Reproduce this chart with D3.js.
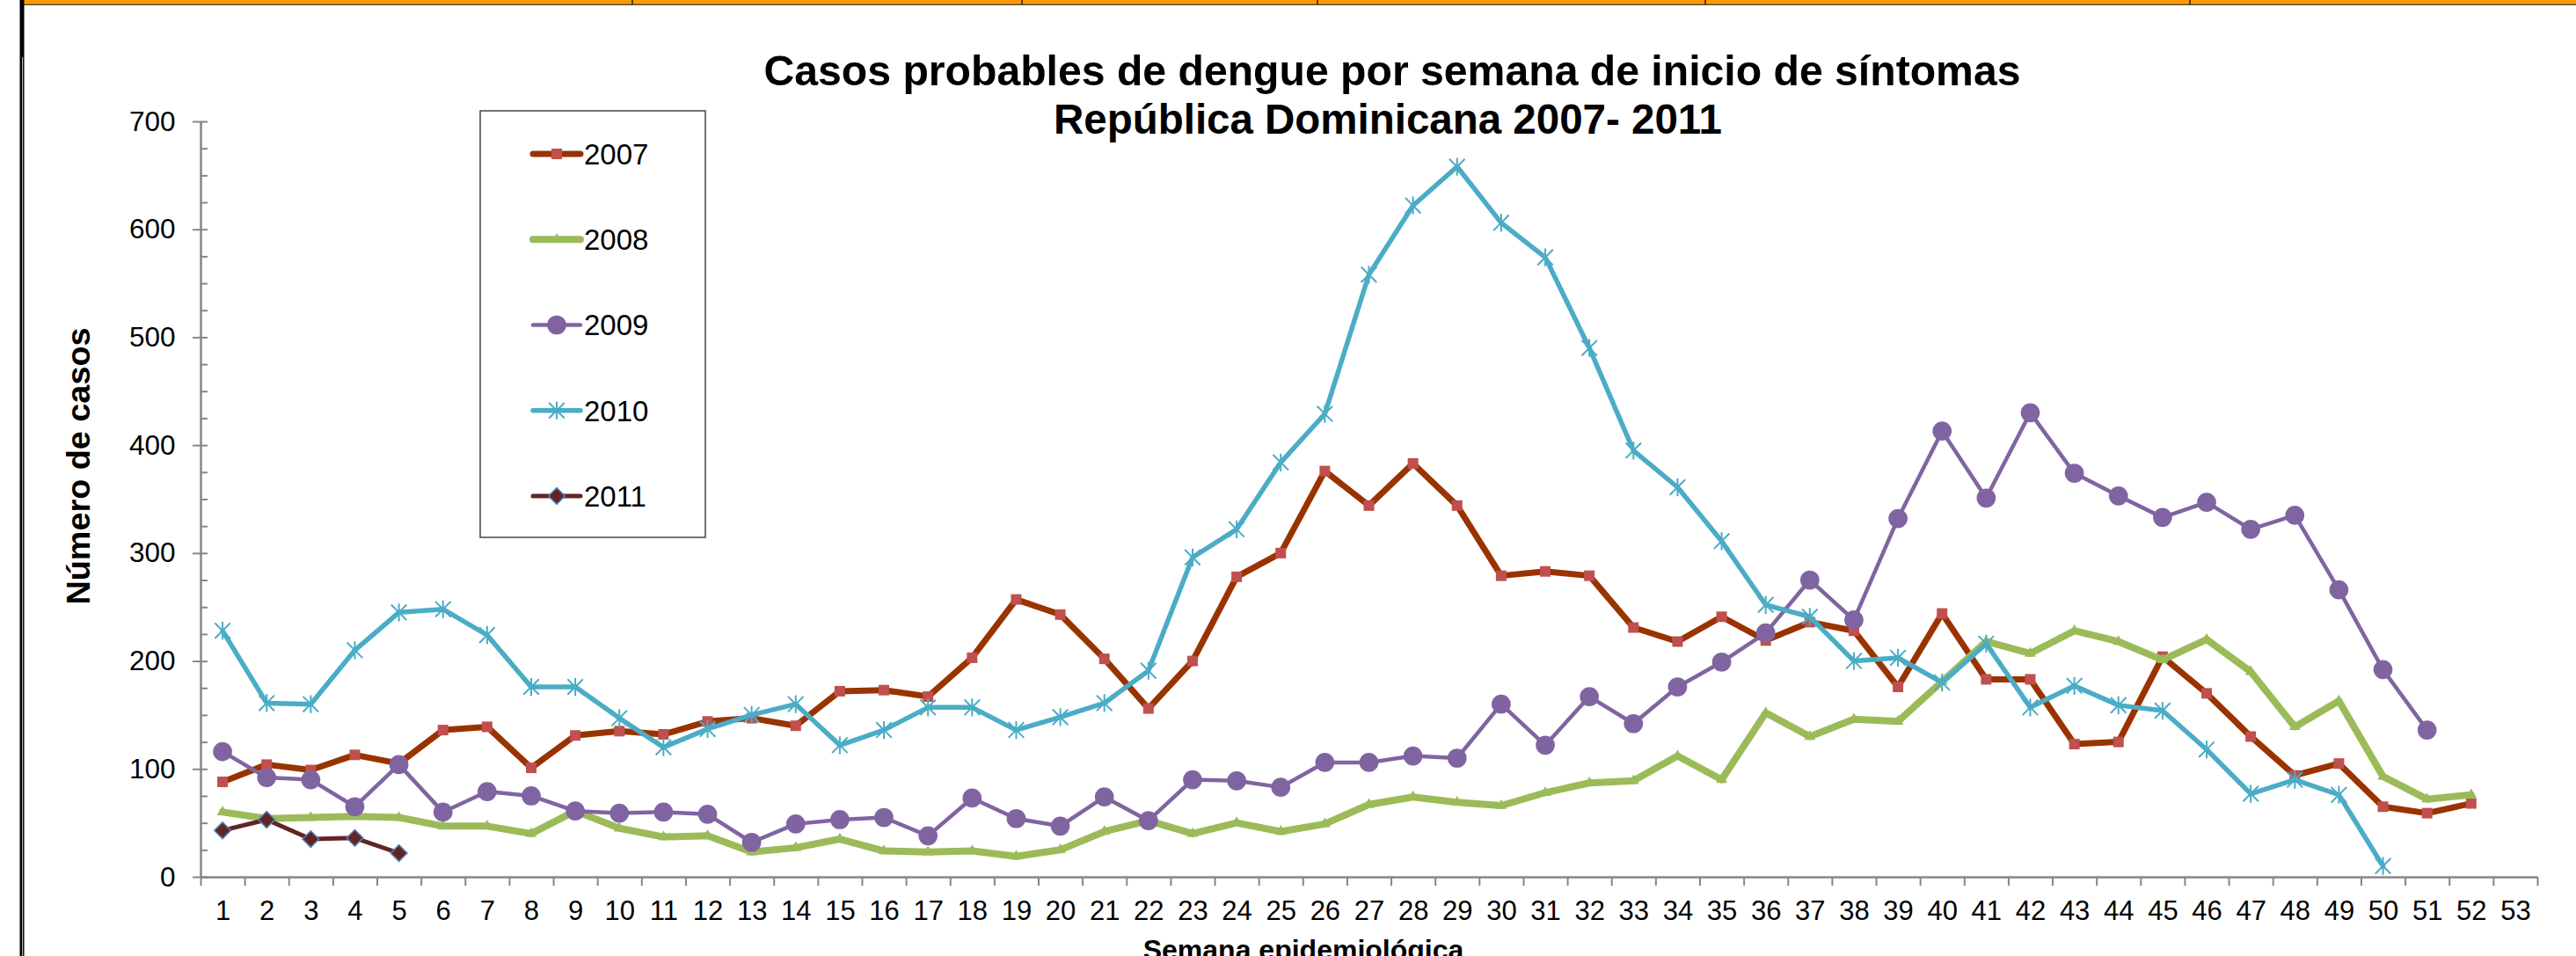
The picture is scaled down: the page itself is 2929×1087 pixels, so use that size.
<!DOCTYPE html>
<html>
<head>
<meta charset="utf-8">
<script src="https://cdn.jsdelivr.net/npm/d3@7"></script>
<style>
  body { margin: 0; background: #fff; }
  svg { display: block; }
  text { font-family: "Liberation Sans", Arial, sans-serif; fill: #000; }
</style>
</head>
<body>
<svg width="2929" height="1087"></svg>
<script>
// semanas epidemiologicas
let weeks = [1, 2, 3, 4, 5, 6, 7, 8, 9, 10, 11, 12, 13, 14, 15, 16, 17, 18, 19, 20,
             21, 22, 23, 24, 25, 26, 27, 28, 29, 30, 31, 32, 33, 34, 35, 36, 37, 38, 39, 40,
             41, 42, 43, 44, 45, 46, 47, 48, 49, 50, 51, 52, 53];
let years = ["2007", "2008", "2009", "2010", "2011"];

let cases2007 = [88, 104, 99, 113, 105, 136, 139, 101, 131, 135,
                 132, 144, 147, 140, 172, 173, 167, 203, 257, 243,
                 202, 156, 200, 278, 300, 376, 344, 383, 344, 279,
                 283, 279, 231, 218, 241, 219, 236, 228, 176, 244,
                 183, 183, 123, 125, 204, 170, 130, 94, 105, 65,
                 59, 68];
let cases2008 = [60, 54, 55, 56, 55, 47, 47, 40, 61, 45,
                 37, 38, 23, 27, 35, 24, 23, 24, 19, 25,
                 42, 52, 40, 50, 42, 49, 67, 74, 69, 66,
                 78, 87, 89, 112, 90, 152, 130, 146, 144, 181,
                 218, 207, 228, 218, 201, 220, 190, 139, 163, 93,
                 72, 76];
let cases2009 = [116, 92, 90, 65, 104, 60, 79, 75, 61, 59,
                 60, 58, 32, 49, 53, 55, 38, 73, 54, 47,
                 74, 52, 90, 89, 83, 106, 106, 112, 110, 160,
                 122, 167, 142, 176, 199, 226, 275, 238, 332, 413,
                 351, 430, 374, 353, 333, 347, 322, 335, 266, 192,
                 136];
let cases2010 = [228, 161, 160, 210, 245, 248, 224, 176, 176, 147,
                 120, 137, 150, 160, 122, 136, 157, 157, 136, 148,
                 161, 191, 296, 322, 384, 429, 558, 622, 658, 606,
                 574, 490, 395, 361, 311, 252, 241, 200, 203, 180,
                 216, 157, 177, 159, 154, 118, 77, 90, 76, 10];
let cases2011 = [43, 53, 35, 36, 22];

let yTicks = [0, 100, 200, 300, 400, 500, 600, 700];

let titleLines = ["Casos probables de dengue por semana de inicio de síntomas",
                  "República Dominicana 2007- 2011"];

var svg = d3.select("svg"),
    width = +svg.attr("width"),
    height = +svg.attr("height");

var x = d3.scaleLinear().domain([0.5, 53.5]).range([228, 2885]);
var y = d3.scaleLinear().domain([0, 700]).range([997, 138]);

// marcador tipo asterisco (estilo excel)
var asterisk = {
    draw: function(ctx, size) {
        var r = Math.sqrt(size) / 2;
        ctx.moveTo(-r, -r); ctx.lineTo(r, r);
        ctx.moveTo(-r, r); ctx.lineTo(r, -r);
        ctx.moveTo(0, -r * 1.15); ctx.lineTo(0, r * 1.15);
    }
};

var series = [
    {name: years[0], values: cases2007, line: "#993300", width: 7,   symbol: d3.symbolSquare,   size: 144, fill: "#C0504D", stroke: "none", sw: 0, rot: 0},
    {name: years[1], values: cases2008, line: "#9BBB59", width: 8,   symbol: d3.symbolTriangle, size: 70,  fill: "#9BBB59", stroke: "none", sw: 0, rot: 0},
    {name: years[2], values: cases2009, line: "#8064A2", width: 4.5, symbol: d3.symbolCircle,   size: 370, fill: "#8064A2", stroke: "none", sw: 0, rot: 0},
    {name: years[3], values: cases2010, line: "#4BACC6", width: 5.5, symbol: asterisk,         size: 310, fill: "none",    stroke: "#4BACC6", sw: 2, rot: 0},
    {name: years[4], values: cases2011, line: "#632523", width: 5,   symbol: d3.symbolSquare,   size: 175, fill: "#632523", stroke: "#4F81BD", sw: 1.5, rot: 45}
];

// marco de la hoja
svg.append("rect").attr("x", 0).attr("y", 0).attr("width", width).attr("height", height).attr("fill", "#fff");
svg.append("rect").attr("x", 26).attr("y", 0).attr("width", width - 26).attr("height", 4.5).attr("fill", "#FF9900");
svg.append("rect").attr("x", 26).attr("y", 4.5).attr("width", width - 26).attr("height", 1.5).attr("fill", "#5a4018");
[719, 1162, 1498, 1939, 2490].forEach(function(d){
    svg.append("line").attr("x1", d).attr("x2", d).attr("y1", 0).attr("y2", 5)
        .attr("stroke", "#222").attr("stroke-width", 1.5);
});
svg.append("rect").attr("x", 22.5).attr("y", 0).attr("width", 5).attr("height", height).attr("fill", "#000");
svg.append("line").attr("x1", 25.6).attr("x2", 25.6).attr("y1", 65).attr("y2", height)
    .attr("stroke", "#fff").attr("stroke-width", 0.8);

// titulo
var title = svg.append("g").attr("class", "title");
title.append("text").attr("x", 1583).attr("y", 97)
    .attr("text-anchor", "middle").style("font-size", "48px").style("font-weight", "bold")
    .attr("textLength", 1429).attr("lengthAdjust", "spacingAndGlyphs")
    .text(titleLines[0]);
title.append("text").attr("x", 1578).attr("y", 152)
    .attr("text-anchor", "middle").style("font-size", "48px").style("font-weight", "bold")
    .attr("textLength", 760).attr("lengthAdjust", "spacingAndGlyphs")
    .text(titleLines[1]);

// eje y
var yAxis = svg.append("g").attr("class", "y axis").attr("transform", "translate(228,0)");
yAxis.call(d3.axisLeft(y).tickValues(yTicks).tickSize(9).tickSizeOuter(0).tickPadding(19.5));
yAxis.call(g => g.append("g").call(d3.axisRight(y).tickValues(d3.range(0, 701, 25)).tickSize(8).tickSizeOuter(0).tickFormat("")));
yAxis.selectAll("text").style("font-size", "31.5px").attr("fill", "#000");
yAxis.selectAll("path.domain").attr("stroke", "#868686").attr("stroke-width", 2);
yAxis.selectAll(".tick line").attr("stroke", "#868686").attr("stroke-width", 2);

svg.append("text")
    .attr("transform", "translate(102," + 530 + ") rotate(-90)")
    .attr("text-anchor", "middle").style("font-size", "37px").style("font-weight", "bold")
    .attr("textLength", 315).attr("lengthAdjust", "spacingAndGlyphs")
    .text("Número de casos");

// eje x
var boundaries = weeks.map(function(w){ return w - 0.5; }).concat([weeks[weeks.length - 1] + 0.5]);
var xAxis = svg.append("g").attr("class", "x axis").attr("transform", "translate(0,997)");
xAxis.call(d3.axisBottom(x).tickValues(weeks).tickSize(0).tickSizeOuter(0).tickPadding(26.5));
xAxis.call(g => g.append("g").call(d3.axisBottom(x).tickValues(boundaries).tickSize(10).tickSizeOuter(0).tickFormat("")));
xAxis.selectAll("text").style("font-size", "31px").attr("fill", "#000");
xAxis.selectAll("path.domain").attr("stroke", "#868686").attr("stroke-width", 2);
xAxis.selectAll(".tick line").attr("stroke", "#868686").attr("stroke-width", 2);

// titulo eje x (en el original queda cortado por el borde inferior)
svg.append("text")
    .attr("x", 1482).attr("y", 1091)
    .attr("text-anchor", "middle").style("font-size", "32px").style("font-weight", "bold")
    .text("Semana epidemiológica");

// series
var line = d3.line()
    .x(function(d, i){ return x(weeks[i]); })
    .y(function(d){ return y(d); });

series.forEach(function(s){
    var g = svg.append("g").attr("class", "serie");
    g.append("path")
        .datum(s.values)
        .attr("fill", "none")
        .attr("stroke", s.line)
        .attr("stroke-width", s.width)
        .attr("stroke-linejoin", "round")
        .attr("stroke-linecap", "round")
        .attr("d", line);
    g.selectAll("path.marker")
        .data(s.values)
        .enter().append("path")
        .attr("class", "marker")
        .attr("transform", function(d, i){ return "translate(" + x(weeks[i]) + "," + y(d) + ") rotate(" + s.rot + ")"; })
        .attr("d", d3.symbol().type(s.symbol).size(s.size))
        .attr("fill", s.fill)
        .attr("stroke", s.stroke)
        .attr("stroke-width", s.sw);
});

// leyenda
var legend = svg.append("g").attr("class", "legend");
legend.append("rect").attr("x", 546).attr("y", 126).attr("width", 256).attr("height", 485)
    .attr("fill", "#fff").attr("stroke", "#444").attr("stroke-width", 1.5);

series.forEach(function(s, i){
    var ly = 175 + i * 97.25;
    var item = legend.append("g").attr("transform", "translate(0," + ly + ")");
    item.append("line").attr("x1", 606).attr("x2", 660).attr("y1", 0).attr("y2", 0)
        .attr("stroke", s.line).attr("stroke-width", s.width).attr("stroke-linecap", "round");
    item.append("path")
        .attr("transform", "translate(633,0) rotate(" + s.rot + ")")
        .attr("d", d3.symbol().type(s.symbol).size(s.size))
        .attr("fill", s.fill).attr("stroke", s.stroke).attr("stroke-width", s.sw);
    item.append("text").attr("x", 664).attr("y", 0).attr("dy", "0.36em")
        .style("font-size", "33px").text(s.name);
});
</script>
</body>
</html>
